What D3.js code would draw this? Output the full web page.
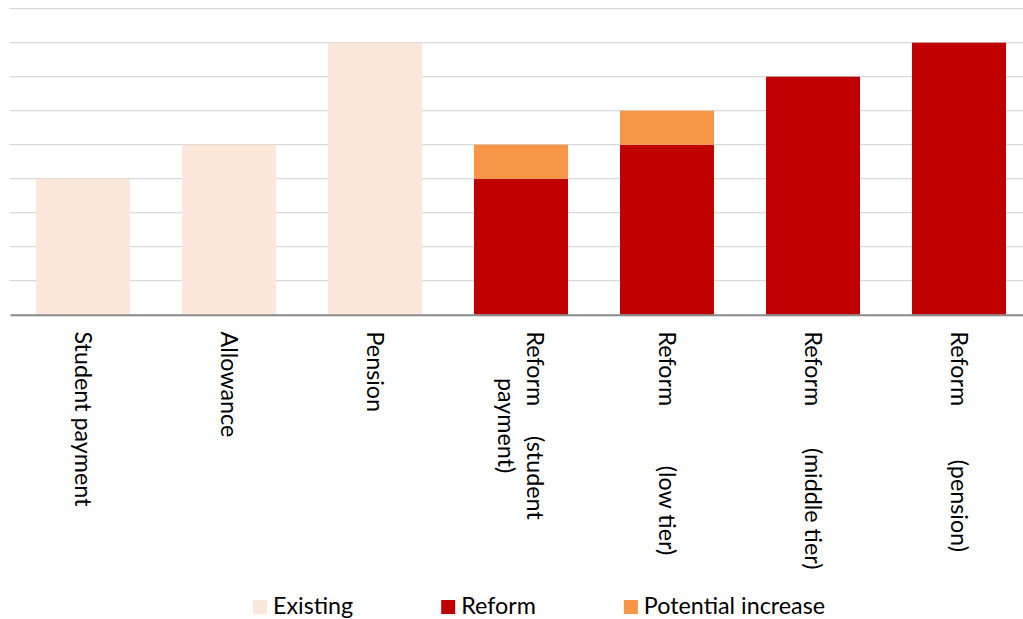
<!DOCTYPE html>
<html><head><meta charset="utf-8"><script src="https://cdn.jsdelivr.net/npm/d3@7"></script>
<style>body{margin:0;background:#fff}text{white-space:pre}</style></head>
<body>
<svg id="chart" width="1023" height="619"></svg>
<script>
// ---- data ----
const categories = [
  ["Student payment"],
  ["Allowance"],
  ["Pension"],
  ["Reform     (student", "payment)"],
  ["Reform          (low tier)"],
  ["Reform       (middle tier)"],
  ["Reform         (pension)"]
];
const seriesNames = ["Existing", "Reform", "Potential increase"];
const existing  = [4, 5, 8, 0, 0, 0, 0];
const reform    = [0, 0, 0, 4, 5, 7, 8];
const potential = [0, 0, 0, 1, 1, 0, 0];
const gridTicks = [0, 1, 2, 3, 4, 5, 6, 7, 8, 9];
const colors = ["#FCE8DA", "#C00000", "#F79646"];

// ---- layout ----
const svg = d3.select("#chart");
const FONT = "Lato";
const FS = 23.3;
const plot = {left: 10, right: 1032, top: 8.7, bottom: 314.7};

const x = d3.scaleBand().domain(d3.range(categories.length))
  .range([plot.left, plot.right]).paddingInner(0.356).paddingOuter(0.178);
const y = d3.scaleLinear().domain([0, 9]).range([plot.bottom, plot.top]);

// gridlines
svg.append("g").selectAll("line").data(gridTicks.filter(d => d > 0)).join("line")
  .attr("x1", plot.left).attr("x2", plot.right)
  .attr("y1", d => y(d)).attr("y2", d => y(d))
  .attr("stroke", "#D9D9D9").attr("stroke-width", 1.3);

// stacked bars
const rows = categories.map((c, i) => ({i, Existing: existing[i], Reform: reform[i], "Potential increase": potential[i]}));
const stacked = d3.stack().keys(seriesNames)(rows);
const color = d3.scaleOrdinal().domain(seriesNames).range(colors);

svg.append("g").selectAll("g").data(stacked).join("g")
  .attr("fill", d => color(d.key))
  .selectAll("rect").data(d => d.filter(v => v[1] - v[0] > 0)).join("rect")
  .attr("x", d => x(d.data.i))
  .attr("width", x.bandwidth())
  .attr("y", d => y(d[1]))
  .attr("height", d => y(d[0]) - y(d[1]));

// baseline axis
const xAxis = d3.axisBottom(x).tickSize(0).tickFormat(() => "");
const ax = svg.append("g").attr("transform", `translate(0,${y(0)})`).call(xAxis);
ax.select(".domain").attr("stroke", "#898989").attr("stroke-width", 2);

// rotated category labels
const labelTop = 331.5;
const lineStep = 29.5;
categories.forEach((lines, i) => {
  const c = x(i) + x.bandwidth() / 2;
  const n = lines.length;
  const g = svg.append("g");
  const widths = lines.map(l => {
    const t = g.append("text").attr("font-family", FONT).attr("font-size", FS).text(l);
    const w = t.node().getComputedTextLength(); t.remove(); return w;
  });
  const maxW = d3.max(widths);
  lines.forEach((l, j) => {
    const bx = c - 8.5 + (n - 1) * lineStep / 2 - j * lineStep;
    g.append("text")
      .attr("font-family", FONT).attr("font-size", FS).attr("fill", "#000")
      .attr("text-anchor", "middle")
      .attr("transform", `translate(${bx},${labelTop + maxW / 2}) rotate(90)`)
      .text(l);
  });
});

// legend
const legend = svg.append("g");
let lx = 253;
seriesNames.forEach((name, i) => {
  legend.append("rect").attr("x", lx).attr("y", 600).attr("width", 14).attr("height", 14).attr("fill", colors[i]);
  const t = legend.append("text").attr("x", lx + 20).attr("y", 614)
    .attr("font-family", FONT).attr("font-size", FS).attr("fill", "#000").text(name);
  lx += 20 + t.node().getComputedTextLength() + 88;
});
</script></body></html>
